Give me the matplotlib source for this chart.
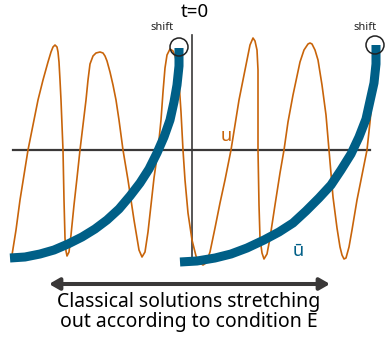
import matplotlib
matplotlib.use("Agg")
import matplotlib.pyplot as plt
from matplotlib.patches import Circle, FancyArrowPatch

# orange wave u (x = position, relative to t=0 line; y = value, relative to axis)
u_x = [-180, -176, -172, -168, -164, -159, -154, -149, -144, -141, -139, -137, -135, -134, -133, -132, -131, -130, -129,
       -128, -127, -126, -125, -123, -121, -118, -115, -112, -109, -106, -104, -102, -99, -96, -92, -89, -87, -85, -82,
       -79, -76, -73, -69, -64, -61, -58, -55, -53, -50, -47, -44, -41, -38, -34, -31, -29, -27, -25, -22, -19, -17, -15,
       -13, -11, -9, -7, -4, 0, 4, 8, 11, 14, 18, 23, 28, 33, 39, 43, 47, 51, 55, 58, 61, 63, 65, 66, 66, 67, 68, 70, 72,
       75, 78, 83, 88, 92, 96, 101, 108, 112, 116, 118, 120, 123, 126, 130, 134, 137, 141, 145, 148, 150, 152, 154, 157,
       160, 165, 170, 175, 178, 180]
u_y = [-105, -80, -50, -25, 0, 25, 50, 70, 88, 98, 103, 105, 103, 98, 88, 70, 50, 25, 0,
       -50, -88, -101, -106, -102, -85, -55, -28, 0, 25, 50, 70, 86, 94, 97, 98, 97, 94, 89, 78,
       65, 50, 30, 0, -30, -50, -70, -88, -100, -107, -102, -82, -55, -28, 0, 30, 58, 82, 95, 101, 99, 94, 87,
       68, 38, 0, -30, -63, -90, -106, -113, -115, -113, -102, -78, -53, -30, 0, 25, 50, 70, 90, 105, 112, 109, 100, 80, 0,
       -55, -88, -103, -109, -104, -88, -55, -23, 0, 28, 55, 88, 100, 106, 107, 106, 100, 90, 65, 35, 0, -47, -78, -97,
       -105, -109, -108, -97, -80, -50, -25, 0, 28, 50]

# blue classical solutions u-bar, before and after the shift
left_x = [-182, -167, -152, -138, -124, -110, -97, -85, -73, -62, -52, -43, -35, -28, -22, -18, -15, -13, -13]
left_y = [-108, -107, -104, -100, -94, -87, -79, -70, -59, -46, -33, -19, -3, 13, 30, 48, 65, 84, 102]
right_x = [-12, 5, 23, 39, 55, 72, 87, 101, 114, 127, 139, 149, 159, 167, 174, 178, 182, 184, 184]
right_y = [-112, -111, -108, -104, -98, -90, -82, -73, -61, -48, -35, -20, -4, 13, 31, 49, 67, 86, 105]

orange = "#c8640a"
blue = "#005f87"
dark = "#3a3838"
font = "Noto Sans"

fig = plt.figure(figsize=(3.85, 3.37), dpi=100)
ax = fig.add_axes([0, 0, 1, 1])
ax.set_xlim(-192, 193)
ax.set_ylim(-187, 150)
ax.axis("off")

ax.plot([-179, 178], [0, 0], color=dark, lw=1.6, zorder=1)
ax.plot([0, 0], [-108, 115], color=dark, lw=1.2, zorder=1)

ax.plot(u_x, u_y, color=orange, lw=1.2, zorder=2, solid_joinstyle="round")
ax.plot(left_x, left_y, color=blue, lw=6.5, solid_capstyle="butt", solid_joinstyle="round", zorder=3)
ax.plot(right_x, right_y, color=blue, lw=6.5, solid_capstyle="butt", solid_joinstyle="round", zorder=3)

ax.add_patch(Circle((-13, 103), 9, fill=False, ec="#222222", lw=1.1, zorder=4))
ax.add_patch(Circle((183, 105), 9, fill=False, ec="#222222", lw=1.1, zorder=4))
ax.text(-30, 122, "shift", ha="center", va="center", fontsize=8, family=font, color="#222222")
ax.text(173, 122, "shift", ha="center", va="center", fontsize=8, family=font, color="#222222")

ax.text(3, 138, "t=0", ha="center", va="center", fontsize=13.5, family=font, color="black")
ax.text(34, 14, "u", ha="center", va="center", fontsize=13, family=font, color=orange)
ax.text(106, -101, "ū", ha="center", va="center", fontsize=13, family=font, color=blue)

arr = FancyArrowPatch((-143, -134), (138, -134), arrowstyle="<|-|>,head_length=4,head_width=2.3",
                      mutation_scale=1.5, color=dark, lw=2.9, shrinkA=0, shrinkB=0)
ax.add_patch(arr)
ax.text(-3, -162, "Classical solutions stretching\nout according to condition E", ha="center", va="center",
        fontsize=14, family=font, color="black", linespacing=1.0)

fig.savefig("out.png", dpi=100)
